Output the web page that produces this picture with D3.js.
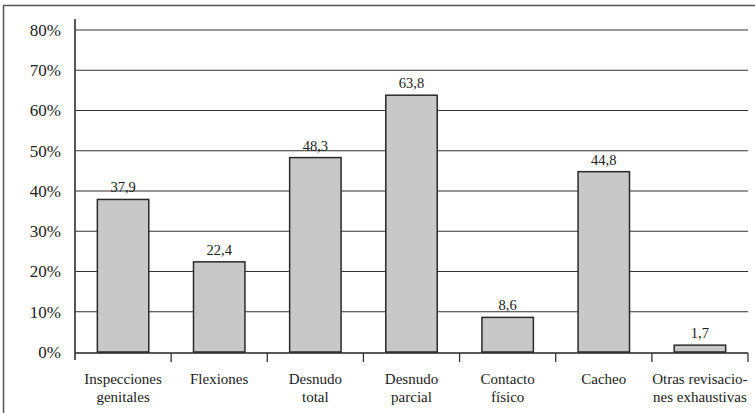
<!DOCTYPE html>
<html>
<head>
<meta charset="utf-8">
<script src="https://cdn.jsdelivr.net/npm/d3@7"></script>
<style>
  html, body { margin: 0; padding: 0; background: #fff; }
  svg { display: block; }
</style>
</head>
<body>
<svg id="chart" width="755" height="413"></svg>
<script>
const categories = [
  ["Inspecciones", "genitales"],
  ["Flexiones"],
  ["Desnudo", "total"],
  ["Desnudo", "parcial"],
  ["Contacto", "físico"],
  ["Cacheo"],
  ["Otras revisacio-", "nes exhaustivas"]
];
const values = [37.9, 22.4, 48.3, 63.8, 8.6, 44.8, 1.7];
const valueLabels = ["37,9", "22,4", "48,3", "63,8", "8,6", "44,8", "1,7"];
const yTicks = [0, 10, 20, 30, 40, 50, 60, 70, 80];
const yTickLabels = ["0%", "10%", "20%", "30%", "40%", "50%", "60%", "70%", "80%"];

(function () {
const FONT = "'Liberation Serif', Tinos, 'Nimbus Roman', 'Nimbus Roman No9 L', FreeSerif, 'Noto Serif', 'DejaVu Serif', Georgia, 'Times New Roman', Times, serif";
const svg = d3.select("#chart");
const mLeft = 75, mRight = 748, mBase = 352, mTop = 30;

// outer frame
svg.append("rect")
  .attr("x", 3.5).attr("y", 5.5)
  .attr("width", 760).attr("height", 420)
  .attr("fill", "none").attr("stroke", "#555").attr("stroke-width", 1.5);

const keys = categories.map((c, i) => i);
const x = d3.scaleBand().domain(keys).range([mLeft, mRight]).padding(0);
const y = d3.scaleLinear().domain([0, 80]).range([mBase, mTop]);

// gridlines
svg.append("g").selectAll("line")
  .data(yTicks.filter(t => t > 0))
  .join("line")
  .attr("x1", mLeft).attr("x2", mRight)
  .attr("y1", d => y(d)).attr("y2", d => y(d))
  .attr("stroke", "#333").attr("stroke-width", 1.2);

// y tick labels
svg.append("g").selectAll("text")
  .data(yTicks)
  .join("text")
  .attr("x", 61)
  .attr("y", d => y(d))
  .attr("dy", "0.35em")
  .attr("text-anchor", "end")
  .attr("font-family", FONT).attr("fill", "#222")
  .attr("font-size", 17)
  .text((d, i) => yTickLabels[i]);

// bars
const barW = x.bandwidth() * 0.535;
svg.append("g").selectAll("rect")
  .data(values)
  .join("rect")
  .attr("x", (d, i) => x(i) + x.bandwidth() / 2 - barW / 2)
  .attr("y", d => y(d))
  .attr("width", barW)
  .attr("height", d => y(0) - y(d))
  .attr("fill", "#c8c8c8")
  .attr("stroke", "#2a2a2a")
  .attr("stroke-width", 1.5);

// value labels
svg.append("g").selectAll("text")
  .data(values)
  .join("text")
  .attr("x", (d, i) => x(i) + x.bandwidth() / 2)
  .attr("y", d => y(d) - 7)
  .attr("text-anchor", "middle")
  .attr("font-family", FONT).attr("fill", "#222")
  .attr("font-size", 14.5)
  .text((d, i) => valueLabels[i]);

// baseline
svg.append("line")
  .attr("x1", mLeft).attr("x2", mRight)
  .attr("y1", y(0) + 1).attr("y2", y(0) + 1)
  .attr("stroke", "#222").attr("stroke-width", 1.5);

// left axis line
svg.append("line")
  .attr("x1", mLeft).attr("x2", mLeft)
  .attr("y1", 19).attr("y2", 360)
  .attr("stroke", "#444").attr("stroke-width", 1.8);

// x ticks at band boundaries
svg.append("g").selectAll("line")
  .data(keys.slice(1).concat([keys.length]))
  .join("line")
  .attr("x1", d => d < keys.length ? x(d) : mRight)
  .attr("x2", d => d < keys.length ? x(d) : mRight)
  .attr("y1", y(0) + 1).attr("y2", y(0) + 10)
  .attr("stroke", "#333").attr("stroke-width", 1.3);

// category labels
const cat = svg.append("g").selectAll("text")
  .data(categories)
  .join("text")
  .attr("x", (d, i) => x(i) + x.bandwidth() / 2)
  .attr("y", 384)
  .attr("text-anchor", "middle")
  .attr("font-family", FONT).attr("fill", "#222")
  .attr("font-size", 15);
cat.selectAll("tspan")
  .data(d => d)
  .join("tspan")
  .attr("x", function() { return d3.select(this.parentNode).attr("x"); })
  .attr("dy", (d, j) => j === 0 ? 0 : 17.5)
  .text(d => d);
})();
</script>
</body>
</html>
